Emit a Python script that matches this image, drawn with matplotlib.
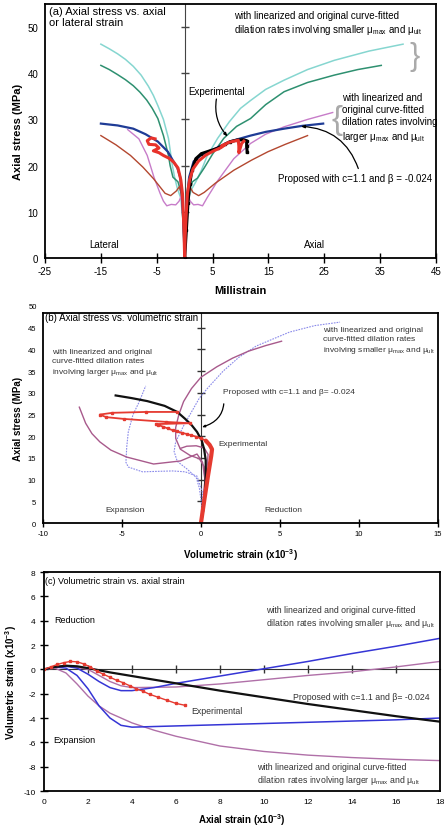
import matplotlib
matplotlib.use('Agg')
import matplotlib.pyplot as plt
import numpy as np

plt.rcParams['font.family'] = ['Liberation Sans', 'DejaVu Sans']
plt.rcParams['mathtext.fontset'] = 'custom'
plt.rcParams['mathtext.rm'] = 'Liberation Sans'
plt.rcParams['mathtext.it'] = 'Liberation Sans:italic'
plt.rcParams['mathtext.bf'] = 'Liberation Sans:bold'
plt.rcParams['axes.unicode_minus'] = False

# ---- (a) axial stress vs axial / lateral strain (millistrain, MPa) ----
a_cyan_lat = [(0, 0), (-0.3, 8), (-0.7, 13), (-1.3, 15), (-1.8, 17.5), (-2.2, 20), (-2.9, 25.9),
              (-3.8, 30), (-4.8, 33), (-5.6, 35.2), (-6.5, 37.2), (-7.8, 39.6), (-9.2, 41.5),
              (-10.6, 43), (-12, 44.2), (-13.5, 45.3), (-15, 46.3)]
a_cyan_ax = [(0, 0), (0.3, 8), (0.7, 13), (1.3, 15), (2, 16.5), (3, 19), (4, 22), (5.9, 25.9),
             (8, 29.5), (10, 32.4), (11.8, 34.1), (14.5, 36.5), (17.8, 38.5), (22, 40.8),
             (26.8, 42.8), (33, 44.8), (39.1, 46.3)]
a_green_lat = [(0, 0), (-0.3, 8), (-0.6, 14), (-1.2, 16.5), (-2.1, 17.5), (-2.6, 20), (-2.9, 22.2),
               (-3.8, 26.5), (-4.8, 30.2), (-5.8, 32.4), (-6.8, 34.2), (-8, 35.9), (-9.2, 37.3),
               (-10.6, 38.6), (-12, 39.7), (-13.5, 40.8), (-15, 41.7)]
a_green_ax = [(0, 0), (0.3, 8), (0.7, 14), (1.4, 16.5), (2.3, 17.3), (3.5, 19.5), (5, 22.5),
              (7, 25.9), (9.3, 28.5), (11.8, 30.2), (14.5, 33.2), (17.8, 36), (22, 38),
              (26.8, 39.6), (31, 40.8), (35.2, 41.7)]
a_violet_lat = [(0, 0), (-0.2, 6), (-0.4, 10), (-0.6, 13.5), (-1, 12.3), (-1.6, 11.5), (-2.4, 11.6),
                (-3.2, 11.3), (-3.8, 12.3), (-4.4, 14), (-5.5, 17.5), (-6.7, 22.2), (-8.2, 25.8),
                (-10.2, 27.8)]
a_violet_ax = [(0, 0), (0.2, 6), (0.4, 10), (0.6, 13.5), (1, 12.3), (1.6, 11.5), (2.4, 11.6),
               (3.2, 11.3), (4, 13), (5.9, 16.7), (8.8, 21.5), (11.8, 24.8), (14.5, 26.8),
               (17.8, 28.4), (22, 30), (26.5, 31.5)]
a_brown_lat = [(0, 0), (-0.2, 8), (-0.5, 13), (-0.9, 15.5), (-1.5, 14.5), (-2.5, 13.5), (-3.5, 14),
               (-5.6, 17.2), (-7.5, 19.7), (-9.7, 22.2), (-12.3, 24.5), (-15, 26.5)]
a_brown_ax = [(0, 0), (0.2, 8), (0.5, 13), (0.9, 15.5), (1.5, 14.2), (2.5, 13.5), (3.5, 14.2),
              (5.5, 16.2), (8.8, 19), (12, 21.2), (14.9, 23), (18, 24.6), (22, 26.5)]
a_prop_lat = [(0, 0), (-0.15, 5), (-0.3, 10), (-0.5, 14), (-0.8, 17.5), (-1.3, 19.5), (-2, 20.9),
              (-3, 23), (-4.8, 25.2), (-7, 26.8), (-9.2, 28), (-12, 28.7), (-15, 29.1)]
a_prop_ax = [(0, 0), (0.15, 5), (0.3, 10), (0.5, 14), (0.8, 17.5), (1.6, 20.9), (3, 22.3),
             (5.2, 23.5), (8, 25.2), (11.8, 26.5), (14.5, 27.3), (17.8, 28), (21, 28.6), (24.8, 29.1)]
a_exp_lat = [(0, 0), (-0.1, 5), (-0.25, 10), (-0.4, 14), (-0.7, 17), (-1.2, 19.5), (-2, 20.8),
             (-2.8, 21.6), (-3.8, 22.2), (-4.6, 22.8), (-5.6, 23.2), (-4.6, 23.8), (-5.2, 24.5),
             (-6.4, 24.6), (-6.7, 25.4), (-6, 26), (-5.3, 25.8)]
a_exp_ax_red = [(0, 0), (0.1, 5), (0.3, 10), (0.5, 14), (0.9, 17), (1.5, 19.3), (2.5, 21), (3.8, 22.3),
                (5.2, 23.2), (6.5, 23.9), (7.3, 24.6), (6.6, 24.2), (7.8, 25), (8.8, 25.3), (9.6, 25.5),
                (9.7, 24.2), (9.7, 22.8), (10.2, 24.8), (10.6, 25.3)]
a_exp_ax_black = [(0, 0), (0.3, 6), (0.6, 12), (0.9, 16), (1.3, 19), (2, 21.5), (3, 22.6), (4.5, 23.2),
                  (6, 23.8), (7.2, 24.6), (8.2, 25.2), (9.3, 25.5), (10.5, 25.6), (11.1, 25.4),
                  (11.1, 24.2), (11.2, 22.9)]

# ---- (b) axial stress vs volumetric strain (x10^-3, MPa) ----
b_prop = [(0, 0), (0.15, 3), (0.25, 7), (0.3, 11), (0.3, 14.5), (0.2, 17), (0.05, 19), (-0.25, 21),
          (-0.6, 22.6), (-1, 24), (-1.5, 25.6), (-2.3, 27), (-3.4, 28.1), (-4.4, 28.8), (-5.4, 29.4)]
b_exp_lower = [(0, 0), (0.2, 5), (0.45, 11), (0.65, 15.5), (0.7, 17), (0.55, 18), (0.3, 19)]
b_exp_upper = [(0.3, 19), (0.0, 19.5), (-0.3, 19.9), (-0.6, 20.2), (-0.9, 20.5), (-1.2, 20.8),
               (-1.5, 21.1), (-1.8, 21.4), (-2.1, 21.8), (-2.4, 22.2), (-2.7, 22.6), (-2.85, 22.8),
               (-0.7, 23.0), (-2.2, 23.3), (-4.9, 24.0), (-6.0, 24.4), (-6.4, 25.0), (-5.6, 25.4),
               (-3.5, 25.6), (-1.5, 25.6)]
b_mauve_small = [(0, 0), (0.15, 5), (0.25, 10), (0.2, 13), (-0.1, 14.8), (-0.7, 15.6), (-1.3, 17),
                 (-1.6, 19.5), (-1.6, 22), (-1.4, 25), (-1.1, 28), (-0.6, 31), (0, 33.6), (1, 36),
                 (2, 38), (3, 39.6), (4.1, 40.9), (5.1, 41.9)]
b_mauve_large = [(0, 0), (0.15, 5), (0.25, 10), (0.1, 14), (-0.25, 15.9), (-1.3, 14.3), (-3, 13.6),
                 (-4.7, 15.2), (-5.7, 16.8), (-6.4, 18.7), (-6.9, 20.6), (-7.3, 23), (-7.7, 26.7)]
b_mauve_inner = [(0, 0), (0.15, 5), (0.3, 10), (0.4, 13.5), (0.45, 15.8), (0.2, 17.3), (-0.3, 17.8),
                 (-0.9, 17.7), (-1.3, 17.2)]
b_blue_small = [(0, 0), (0.05, 4), (-0.1, 8), (-0.3, 10.5), (-0.9, 12.5), (-1.5, 14.2), (-1.7, 16.5),
                (-1.6, 18.7), (-1.1, 22.4), (-0.6, 25.6), (-0.1, 28.8), (0.4, 31), (1.4, 35),
                (2.4, 38.2), (3.5, 40.8), (5.6, 44), (7.2, 45.5), (8.8, 46.3)]
b_blue_large = [(0, 0), (0.1, 4), (0.1, 7), (-0.25, 10.8), (-1, 11.8), (-1.8, 12), (-2.8, 11.9),
                (-3.7, 11.8), (-4.6, 12.9), (-4.75, 14), (-4.7, 17.5), (-4.6, 21), (-4.3, 25),
                (-3.9, 28), (-3.5, 31.6)]

# ---- (c) volumetric strain vs axial strain (x10^-3) ----
c_prop = [(0, 0), (0.5, 0.2), (1, 0.3), (1.5, 0.25), (2, 0.1), (3, -0.25), (4, -0.55), (5, -0.85),
          (6, -1.15), (8, -1.75), (10, -2.3), (12, -2.85), (14, -3.35), (16, -3.85), (18, -4.3)]
c_exp = [(0, 0), (0.3, 0.2), (0.6, 0.4), (0.9, 0.55), (1.2, 0.65), (1.5, 0.62), (1.8, 0.45),
         (2.1, 0.2), (2.4, -0.15), (2.7, -0.4), (3, -0.65), (3.3, -0.9), (3.6, -1.1), (3.9, -1.35),
         (4.2, -1.6), (4.5, -1.8), (4.8, -2.05), (5.2, -2.3), (5.6, -2.55), (6.0, -2.8), (6.4, -2.95)]
c_blue_small = [(0, 0), (0.5, 0.2), (1, 0.25), (1.5, 0.1), (2, -0.4), (2.5, -1), (3, -1.5),
                (3.5, -1.75), (4, -1.75), (5, -1.5), (6, -1.15), (8, -0.55), (10, 0.05), (12, 0.65),
                (14, 1.3), (16, 1.9), (18, 2.55)]
c_blue_large = [(0, 0), (0.5, 0.2), (1, 0.1), (1.5, -0.5), (2, -1.6), (2.5, -3), (3, -4), (3.5, -4.6),
                (4, -4.75), (5, -4.7), (6, -4.65), (8, -4.55), (10, -4.45), (12, -4.35), (14, -4.25),
                (16, -4.15), (18, -4.0)]
c_mauve_small = [(0, 0), (1, 0.3), (2, 0), (2.5, -0.5), (3, -1), (3.5, -1.35), (4, -1.5), (6, -1.45),
                 (8, -1.2), (10, -0.85), (12, -0.5), (14, -0.2), (15, 0), (16, 0.2), (18, 0.65)]
c_mauve_large = [(0, 0), (0.5, 0.1), (1, -0.3), (1.5, -1.2), (2, -2.2), (2.5, -3), (3, -3.6), (4, -4.4),
                 (5, -5), (6, -5.5), (8, -6.3), (10, -6.75), (12, -7.05), (14, -7.25), (16, -7.4),
                 (18, -7.5)]

MU = 'μ$_{\\rm max}$ and μ$_{\\rm ult}$'


def xy(pts):
    a = np.array(pts, dtype=float)
    return a[:, 0], a[:, 1]


def frame(ax):
    for sp in ax.spines.values():
        sp.set_linewidth(1.3)
        sp.set_color('black')


fig = plt.figure(figsize=(4.44, 8.29), dpi=100)

# ================= (a) =================
axA = fig.add_axes([0.1014, 0.6876, 0.8806, 0.3064])
for pts, col, lw in [(a_cyan_lat, '#86d6d0', 1.1), (a_cyan_ax, '#86d6d0', 1.1),
                     (a_green_lat, '#2e9070', 1.1), (a_green_ax, '#2e9070', 1.1),
                     (a_violet_lat, '#c77cc9', 1.0), (a_violet_ax, '#c77cc9', 1.0),
                     (a_brown_lat, '#b3472f', 1.0), (a_brown_ax, '#b3472f', 1.0),
                     (a_prop_lat, '#1f3c96', 1.6), (a_prop_ax, '#1f3c96', 1.6)]:
    axA.plot(*xy(pts), color=col, lw=lw)
axA.plot(*xy(a_exp_ax_black), color='black', lw=2.2, marker='s', ms=2)
axA.plot(*xy(a_exp_lat), color='#e8322b', lw=2.2)
axA.plot(*xy(a_exp_ax_red), color='#e8322b', lw=2.2)

axA.set_xlim(-25, 45)
axA.set_ylim(0, 55)
axA.set_xticks(range(-25, 46, 10))
axA.set_yticks(range(0, 51, 10))
axA.tick_params(axis='x', direction='inout', length=7, width=1, labelsize=7, pad=2)
axA.tick_params(axis='y', length=0, labelsize=7, pad=5)
frame(axA)
secA = axA.secondary_yaxis(25 / 70)
secA.set_yticks(range(10, 51, 10))
secA.tick_params(direction='inout', length=6, width=1, color='#444', labelleft=False, labelright=False)
for sp in secA.spines.values():
    sp.set_color('#444')
axA.set_xlabel('Millistrain', fontsize=8, fontweight='bold')
axA.xaxis.set_label_coords(0.5, -0.105)
axA.set_ylabel('Axial stress (MPa)', fontsize=8, fontweight='bold')
axA.yaxis.set_label_coords(-0.056, 0.5)

axA.text(-24.2, 54.6, '(a) Axial stress vs. axial\nor lateral strain', fontsize=8, va='top', ha='left')
axA.text(8.8, 53.7, 'with linearized and original curve-fitted\ndilation rates involving smaller ' + MU,
         fontsize=7, va='top', ha='left')
axA.text(28.2, 35.9, 'with linearized and\noriginal curve-fitted\ndilation rates involving\nlarger ' + MU,
         fontsize=7, va='top', ha='left', linespacing=1.25)
axA.text(41.2, 43.7, '}', fontsize=22, color='#aaaaaa', va='center', ha='center', fontweight='light')
axA.text(27.2, 30.0, '{', fontsize=24, color='#aaaaaa', va='center', ha='center', fontweight='light')
axA.annotate('Experimental', xy=(7.7, 26.3), xytext=(0.7, 36.1), fontsize=7, va='center', ha='left',
             arrowprops=dict(arrowstyle='-|>,head_width=0.12,head_length=0.3', color='black', lw=0.9,
                             connectionstyle='arc3,rad=0.25', shrinkA=0, shrinkB=0,
                             relpos=(0.5, 0)))
axA.annotate('Proposed with c=1.1 and β = -0.024', xy=(20.8, 28.5), xytext=(16.7, 17.4), fontsize=7,
             va='center', ha='left',
             arrowprops=dict(arrowstyle='-|>,head_width=0.12,head_length=0.3', color='black', lw=0.9,
                             connectionstyle='arc3,rad=0.35', shrinkA=1, shrinkB=0,
                             relpos=(0.53, 1)))
axA.text(-14.4, 3.0, 'Lateral', fontsize=7, ha='center', va='center')
axA.text(23.2, 3.0, 'Axial', fontsize=7, ha='center', va='center')

# ================= (b) =================
axB = fig.add_axes([0.0968, 0.3679, 0.8896, 0.2533])
bl = dict(color='#8a8aea', lw=0.8, ls=(0, (1.5, 1)))
axB.plot(*xy(b_blue_small), **bl)
axB.plot(*xy(b_blue_large), **bl)
for pts in (b_mauve_small, b_mauve_large, b_mauve_inner):
    axB.plot(*xy(pts), color='#a85a8c', lw=1.0)
axB.plot(*xy(b_prop), color='#111111', lw=1.6)
axB.plot(*xy(b_exp_lower), color='#e53a30', lw=3.0, solid_capstyle='round')
axB.plot(*xy(b_exp_upper), color='#e53a30', lw=1.3, marker='s', ms=1.6)

axB.set_xlim(-10, 15)
axB.set_ylim(0, 48.4)
axB.set_xticks(range(-10, 16, 5))
axB.set_yticks(range(0, 46, 5))
axB.tick_params(axis='x', direction='inout', length=6, width=1, labelsize=5.5, pad=2)
axB.tick_params(axis='y', length=0, labelsize=5.5, pad=5)
axB.text(-0.014, 50, '50', transform=axB.get_yaxis_transform(), fontsize=5.5, ha='right',
         va='center', clip_on=False)
frame(axB)
secB = axB.secondary_yaxis(10 / 25)
secB.set_yticks(range(5, 46, 5))
secB.tick_params(direction='inout', length=6, width=1, color='#333', labelleft=False, labelright=False)
for sp in secB.spines.values():
    sp.set_color('#333')
axB.set_xlabel('Volumetric strain (x10$^{\\mathbf{-3}}$)', fontsize=7, fontweight='bold')
axB.xaxis.set_label_coords(0.5, -0.11)
axB.set_ylabel('Axial stress (MPa)', fontsize=7, fontweight='bold')
axB.yaxis.set_label_coords(-0.05, 0.5)

axB.text(-9.87, 47.5, '(b) Axial stress vs. volumetric strain', fontsize=7, va='center', ha='left')
axB.text(-9.4, 40.3, 'with linearized and original\ncurve-fitted dilation rates\ninvolving larger ' + MU,
         fontsize=6, va='top', ha='left', color='#333333', linespacing=1.3)
axB.text(7.7, 45.3, 'with linearized and original\ncurve-fitted dilation rates\ninvolving smaller ' + MU,
         fontsize=6, va='top', ha='left', color='#333333', linespacing=1.3)
axB.annotate('Proposed with c=1.1 and β= -0.024', xy=(0.06, 22.1), xytext=(1.4, 30.2), fontsize=6,
             va='center', ha='left', color='#333333',
             arrowprops=dict(arrowstyle='-|>,head_width=0.1,head_length=0.25', color='black', lw=0.9,
                             connectionstyle='arc3,rad=-0.45', shrinkA=4, shrinkB=0,
                             relpos=(0.0, 0.5)))
axB.text(1.1, 18.4, 'Experimental', fontsize=6, va='center', ha='left', color='#333333')
axB.text(-4.8, 3.0, 'Expansion', fontsize=6, ha='center', va='center', color='#333333')
axB.text(5.2, 3.0, 'Reduction', fontsize=6, ha='center', va='center', color='#333333')

# ================= (c) =================
axC = fig.add_axes([0.0991, 0.0446, 0.8919, 0.2642])
for pts in (c_mauve_small, c_mauve_large):
    axC.plot(*xy(pts), color='#b070a8', lw=1.0)
for pts in (c_blue_small, c_blue_large):
    axC.plot(*xy(pts), color='#3535d5', lw=1.1)
axC.plot(*xy(c_prop), color='#111111', lw=1.6)
axC.plot(*xy(c_exp), color='#e53a30', lw=1.0, marker='s', ms=1.7)

axC.set_xlim(0, 18)
axC.set_ylim(-10, 8)
axC.set_xticks(range(0, 19, 2))
axC.set_yticks(range(-10, 9, 2))
axC.tick_params(axis='x', length=0, labelsize=6, pad=5)
axC.tick_params(axis='y', direction='inout', length=6, width=1, labelsize=6, pad=3)
frame(axC)
secC = axC.secondary_xaxis(10 / 18)
secC.set_xticks(range(2, 17, 2))
secC.tick_params(direction='inout', length=6, width=1, color='#333', labeltop=False, labelbottom=False)
for sp in secC.spines.values():
    sp.set_color('#333')
axC.set_xlabel('Axial strain (x10$^{\\mathbf{-3}}$)', fontsize=7, fontweight='bold')
axC.xaxis.set_label_coords(0.5, -0.092)
axC.set_ylabel('Volumetric strain (x10$^{\\mathbf{-3}}$)', fontsize=7, fontweight='bold')
axC.yaxis.set_label_coords(-0.063, 0.5)

axC.text(0.05, 7.3, '(c) Volumetric strain vs. axial strain', fontsize=6.5, va='center', ha='left')
axC.text(0.45, 4.1, 'Reduction', fontsize=6.5, va='center', ha='left')
axC.text(0.4, -5.75, 'Expansion', fontsize=6.5, va='center', ha='left')
axC.text(10.1, 5.3, 'with linearized and original curve-fitted\ndilation rates involving smaller ' + MU,
         fontsize=6.3, va='top', ha='left', color='#333333')
axC.text(9.7, -7.6, 'with linearized and original curve-fitted\ndilation rates involving larger ' + MU,
         fontsize=6.3, va='top', ha='left', color='#333333')
axC.text(11.3, -2.2, 'Proposed with c=1.1 and β= -0.024', fontsize=6.3, va='center', ha='left',
         color='#333333')
axC.text(6.7, -3.4, 'Experimental', fontsize=6.3, va='center', ha='left', color='#333333')

fig.savefig('out.png', dpi=100)
